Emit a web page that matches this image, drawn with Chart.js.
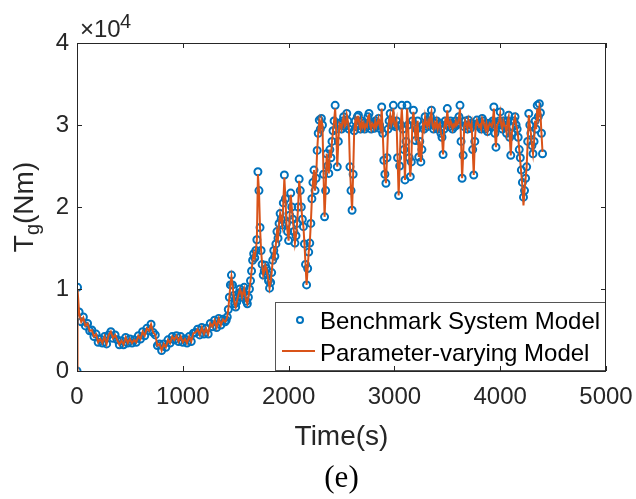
<!DOCTYPE html>
<html>
<head>
<meta charset="utf-8">
<script src="https://cdn.jsdelivr.net/npm/chart.js@4"></script>
<style>
  body { margin: 0; background: #fff; }
  canvas { display: block; }
</style>
</head>
<body>
<canvas id="tgChart" width="636" height="499"></canvas>
<script>
// tempo (s) das amostras: 20 s ate 1400 s, depois 10 s
const timeS = [
  0, 5,
  20, 40, 60, 80, 100,
  120, 140, 160, 180, 200,
  220, 240, 260, 280, 300,
  320, 340, 360, 380, 400,
  420, 440, 460, 480, 500,
  520, 540, 560, 580, 600,
  620, 640, 660, 680, 700,
  720, 740, 760, 780, 800,
  820, 840, 860, 880, 900,
  920, 940, 960, 980, 1000,
  1020, 1040, 1060, 1080, 1100,
  1120, 1140, 1160, 1180, 1200,
  1220, 1240, 1260, 1280, 1300,
  1320, 1340, 1360, 1380, 1400,
  1410, 1420, 1430, 1440, 1450, 1460, 1470, 1480, 1490, 1500,
  1510, 1520, 1530, 1540, 1550, 1560, 1570, 1580, 1590, 1600,
  1610, 1620, 1630, 1640, 1650, 1660, 1670, 1680, 1690, 1700,
  1710, 1720, 1730, 1740, 1750, 1760, 1770, 1780, 1790, 1800,
  1810, 1820, 1830, 1840, 1850, 1860, 1870, 1880, 1890, 1900,
  1910, 1920, 1930, 1940, 1950, 1960, 1970, 1980, 1990, 2000,
  2010, 2020, 2030, 2040, 2050, 2060, 2070, 2080, 2090, 2100,
  2110, 2120, 2130, 2140, 2150, 2160, 2170, 2180, 2190, 2200,
  2210, 2220, 2230, 2240, 2250, 2260, 2270, 2280, 2290, 2300,
  2310, 2320, 2330, 2340, 2350, 2360, 2370, 2380, 2390, 2400,
  2410, 2420, 2430, 2440, 2450, 2460, 2470, 2480, 2490, 2500,
  2510, 2520, 2530, 2540, 2550, 2560, 2570, 2580, 2590, 2600,
  2610, 2620, 2630, 2640, 2650, 2660, 2670, 2680, 2690, 2700,
  2710, 2720, 2730, 2740, 2750, 2760, 2770, 2780, 2790, 2800,
  2810, 2820, 2830, 2840, 2850, 2860, 2870, 2880, 2890, 2900,
  2910, 2920, 2930, 2940, 2950, 2960, 2970, 2980, 2990, 3000,
  3010, 3020, 3030, 3040, 3050, 3060, 3070, 3080, 3090, 3100,
  3110, 3120, 3130, 3140, 3150, 3160, 3170, 3180, 3190, 3200,
  3210, 3220, 3230, 3240, 3250, 3260, 3270, 3280, 3290, 3300,
  3310, 3320, 3330, 3340, 3350, 3360, 3370, 3380, 3390, 3400,
  3410, 3420, 3430, 3440, 3450, 3460, 3470, 3480, 3490, 3500,
  3510, 3520, 3530, 3540, 3550, 3560, 3570, 3580, 3590, 3600,
  3610, 3620, 3630, 3640, 3650, 3660, 3670, 3680, 3690, 3700,
  3710, 3720, 3730, 3740, 3750, 3760, 3770, 3780, 3790, 3800,
  3810, 3820, 3830, 3840, 3850, 3860, 3870, 3880, 3890, 3900,
  3910, 3920, 3930, 3940, 3950, 3960, 3970, 3980, 3990, 4000,
  4010, 4020, 4030, 4040, 4050, 4060, 4070, 4080, 4090, 4100,
  4110, 4120, 4130, 4140, 4150, 4160, 4170, 4180, 4190, 4200,
  4210, 4220, 4230, 4240, 4250, 4260, 4270, 4280, 4290, 4300,
  4310, 4320, 4330, 4340, 4350, 4360, 4370, 4380, 4390, 4400
];

// Tg do modelo de referencia (x10^4 Nm)
const benchmarkTg = [
  0, 1.02,
  0.72, 0.60, 0.66, 0.55, 0.58,
  0.49, 0.50, 0.42, 0.45, 0.35,
  0.39, 0.34, 0.42, 0.33, 0.44,
  0.48, 0.40, 0.44, 0.38, 0.32,
  0.37, 0.32, 0.41, 0.34, 0.39,
  0.34, 0.38, 0.35, 0.43, 0.39,
  0.48, 0.43, 0.52, 0.49, 0.57,
  0.47, 0.44, 0.31, 0.33, 0.25,
  0.33, 0.29, 0.38, 0.34, 0.42,
  0.38, 0.43, 0.36, 0.42, 0.35,
  0.39, 0.34, 0.42, 0.36, 0.46,
  0.47, 0.51, 0.44, 0.53, 0.45,
  0.52, 0.45, 0.58, 0.54, 0.62,
  0.53, 0.64, 0.56, 0.63, 0.60,
  0.62, 0.66, 0.75, 0.90, 1.05, 1.17, 1.05, 0.92, 0.82, 0.78,
  0.84, 0.90, 0.95, 1.00, 0.96, 0.90, 0.95, 1.02, 0.92, 0.85,
  0.82, 0.90, 1.00, 1.10, 1.22, 1.35, 1.43, 1.38, 1.47, 1.60,
  2.43, 2.20, 1.75, 1.47, 1.30, 1.17, 1.22, 1.29, 1.25, 1.18,
  1.10, 1.01, 1.08, 1.20, 1.35, 1.47, 1.40, 1.55, 1.70, 1.62,
  1.80, 1.92, 1.85, 1.78, 2.05, 2.39, 2.10, 1.80, 1.70, 1.59,
  1.90, 2.17, 2.00, 1.85, 1.70, 1.56, 1.65, 1.80, 2.00, 2.34,
  2.20, 2.00, 1.85, 1.76, 1.55, 1.30, 1.05, 1.25, 1.45, 1.56,
  1.80, 2.10, 2.30, 2.45, 2.20, 2.35, 2.69, 2.90, 3.06, 2.95,
  3.08, 3.00, 2.40, 1.88, 2.20, 2.65, 2.50, 2.41, 2.70, 2.60,
  2.80, 2.93, 3.05, 3.24, 2.95, 2.49, 2.80, 3.02, 3.00, 2.95,
  3.05, 3.10, 2.98, 3.00, 3.14, 3.05, 2.95, 2.49, 2.20, 1.96,
  2.40, 2.93, 3.05, 2.98, 3.10, 3.12, 3.00, 2.95, 3.05, 2.98,
  3.02, 2.95, 3.00, 2.98, 3.10, 3.14, 3.00, 2.95, 3.02, 3.00,
  2.96, 3.05, 2.98, 3.02, 3.08, 3.00, 2.95, 3.22, 2.90, 2.57,
  2.40, 2.29, 2.60, 2.95, 3.05, 3.14, 3.00, 3.05, 3.24, 3.00,
  2.98, 3.05, 2.60, 2.14, 2.50, 3.00, 3.24, 2.95, 2.70, 2.33,
  2.80, 3.24, 3.00, 2.60, 2.37, 2.55, 3.05, 3.18, 3.00, 2.81,
  2.95, 3.05, 2.61, 2.80, 2.55, 2.70, 3.00, 2.95, 3.10, 3.02,
  2.98, 3.05, 3.00, 3.10, 3.18, 3.00, 2.95, 3.02, 2.98, 3.05,
  2.95, 3.00, 3.02, 2.90, 2.85, 2.64, 2.95, 3.05, 3.00, 3.20,
  3.02, 2.98, 3.05, 3.02, 2.95, 3.00, 2.98, 3.05, 3.00, 3.02,
  3.10, 3.24, 2.80, 2.35, 2.63, 2.98, 3.05, 3.00, 2.95, 3.06,
  3.00, 2.96, 3.02, 2.70, 2.39, 2.80, 3.00, 3.06, 3.02, 2.98,
  3.00, 2.95, 3.08, 3.05, 3.00, 2.95, 3.02, 2.92, 2.98, 3.02,
  3.00, 2.98, 3.05, 3.22, 2.90, 2.73, 3.00, 3.02, 3.05, 3.16,
  3.00, 2.95, 3.05, 3.00, 2.98, 2.90, 3.05, 3.12, 2.85, 2.63,
  2.90, 2.98, 3.05, 3.10, 3.00, 2.95, 2.85, 2.70, 2.60, 2.45,
  2.30, 2.12, 2.20, 2.35, 2.49, 2.80, 3.14, 3.00, 2.90, 2.75,
  2.65, 2.80, 3.05, 2.95, 3.24, 3.10, 3.26, 3.15, 2.90, 2.65
];

// Tg do modelo com parametros variaveis (x10^4 Nm)
const modelTg = [
  0, 1.00,
  0.71, 0.60, 0.65, 0.55, 0.58,
  0.49, 0.50, 0.42, 0.45, 0.35,
  0.39, 0.34, 0.42, 0.33, 0.44,
  0.48, 0.40, 0.44, 0.38, 0.32,
  0.37, 0.32, 0.41, 0.34, 0.39,
  0.34, 0.38, 0.35, 0.43, 0.39,
  0.48, 0.43, 0.52, 0.49, 0.57,
  0.47, 0.44, 0.31, 0.33, 0.25,
  0.33, 0.29, 0.38, 0.34, 0.42,
  0.38, 0.43, 0.36, 0.42, 0.35,
  0.39, 0.34, 0.42, 0.36, 0.46,
  0.47, 0.51, 0.44, 0.53, 0.45,
  0.52, 0.45, 0.58, 0.54, 0.62,
  0.53, 0.64, 0.56, 0.63, 0.60,
  0.62, 0.66, 0.75, 0.90, 1.05, 1.15, 1.05, 0.92, 0.82, 0.78,
  0.84, 0.90, 0.95, 1.00, 0.96, 0.90, 0.95, 1.00, 0.92, 0.85,
  0.82, 0.90, 1.00, 1.10, 1.22, 1.35, 1.43, 1.38, 1.47, 1.60,
  2.40, 2.20, 1.75, 1.47, 1.30, 1.17, 1.22, 1.29, 1.25, 1.18,
  1.10, 1.01, 1.08, 1.20, 1.35, 1.47, 1.40, 1.55, 1.70, 1.62,
  1.80, 1.92, 1.85, 1.78, 2.05, 2.36, 2.10, 1.80, 1.70, 1.59,
  1.90, 2.15, 2.00, 1.85, 1.70, 1.56, 1.65, 1.80, 2.00, 2.32,
  2.20, 2.00, 1.85, 1.76, 1.55, 1.30, 1.05, 1.25, 1.45, 1.56,
  1.80, 2.10, 2.30, 2.45, 2.20, 2.35, 2.69, 2.90, 3.04, 2.95,
  3.06, 3.00, 2.40, 1.88, 2.20, 2.65, 2.50, 2.41, 2.70, 2.60,
  2.80, 2.93, 3.05, 3.20, 2.95, 2.49, 2.80, 3.02, 3.00, 2.95,
  3.05, 3.10, 2.98, 3.00, 3.12, 3.05, 2.95, 2.49, 2.20, 1.96,
  2.40, 2.93, 3.05, 2.98, 3.10, 3.10, 3.00, 2.95, 3.05, 2.98,
  3.02, 2.95, 3.00, 2.98, 3.10, 3.12, 3.00, 2.95, 3.02, 3.00,
  2.96, 3.05, 2.98, 3.02, 3.08, 3.00, 2.95, 3.20, 2.90, 2.57,
  2.40, 2.29, 2.60, 2.95, 3.05, 3.12, 3.00, 3.05, 3.20, 3.00,
  2.98, 3.05, 2.60, 2.14, 2.50, 3.00, 3.20, 2.95, 2.70, 2.33,
  2.80, 3.20, 3.00, 2.60, 2.37, 2.55, 3.05, 3.16, 3.00, 2.81,
  2.95, 3.05, 2.61, 2.80, 2.55, 2.70, 3.00, 2.95, 3.10, 3.02,
  2.98, 3.05, 3.00, 3.10, 3.16, 3.00, 2.95, 3.02, 2.98, 3.05,
  2.95, 3.00, 3.02, 2.90, 2.85, 2.64, 2.95, 3.05, 3.00, 3.18,
  3.02, 2.98, 3.05, 3.02, 2.95, 3.00, 2.98, 3.05, 3.00, 3.02,
  3.10, 3.20, 2.80, 2.35, 2.63, 2.98, 3.05, 3.00, 2.95, 3.06,
  3.00, 2.96, 3.02, 2.70, 2.39, 2.80, 3.00, 3.06, 3.02, 2.98,
  3.00, 2.95, 3.08, 3.05, 3.00, 2.95, 3.02, 2.92, 2.98, 3.02,
  3.00, 2.98, 3.05, 3.20, 2.90, 2.73, 3.00, 3.02, 3.05, 3.14,
  3.00, 2.95, 3.05, 3.00, 2.98, 2.90, 3.05, 3.10, 2.85, 2.63,
  2.90, 2.98, 3.05, 3.10, 3.00, 2.95, 2.85, 2.70, 2.55, 2.40,
  2.25, 2.02, 2.20, 2.35, 2.49, 2.80, 3.12, 3.00, 2.90, 2.75,
  2.65, 2.80, 3.05, 2.95, 3.20, 3.10, 3.22, 3.15, 2.90, 2.67
];

const xTicks = [0, 1000, 2000, 3000, 4000, 5000];
const yTicks = [0, 1, 2, 3, 4];
const seriesNames = ['Benchmark System Model', 'Parameter-varying Model'];

const AZUL = '#0072BD';
const LARANJA = '#D95319';
const CINZA = '#262626';
const FONTE = '"Liberation Sans", Arial, Helvetica, sans-serif';

const molduraPlugin = {
  id: 'moldura',
  afterDatasetsDraw(chart) {
    const { ctx, chartArea: a } = chart;
    // legenda
    const lx = 275, ly = 302, lw = a.right - lx, lh = a.bottom - ly;
    ctx.save();
    ctx.fillStyle = '#fff';
    ctx.fillRect(lx, ly, lw, lh);
    ctx.strokeStyle = '#555';
    ctx.lineWidth = 1;
    ctx.strokeRect(lx + 0.5, ly + 0.5, lw - 1, lh - 1);
    ctx.strokeStyle = AZUL;
    ctx.lineWidth = 2;
    ctx.beginPath();
    ctx.arc(300, 320, 3, 0, Math.PI * 2);
    ctx.stroke();
    ctx.strokeStyle = LARANJA;
    ctx.beginPath();
    ctx.moveTo(282, 351);
    ctx.lineTo(315, 351);
    ctx.stroke();
    ctx.fillStyle = '#000';
    ctx.font = '24px ' + FONTE;
    ctx.textBaseline = 'alphabetic';
    ctx.textAlign = 'left';
    ctx.fillText(seriesNames[0], 320, 329);
    ctx.fillText(seriesNames[1], 320, 361);
    ctx.restore();
  },
  afterDraw(chart) {
    const { ctx, chartArea: a, scales } = chart;
    ctx.save();
    ctx.strokeStyle = CINZA;
    ctx.lineWidth = 1;
    ctx.strokeRect(a.left + 0.5, a.top + 0.5, a.right - a.left - 1, a.bottom - a.top);
    ctx.beginPath();
    xTicks.forEach(v => {
      const px = Math.round(scales.x.getPixelForValue(v)) + 0.5;
      ctx.moveTo(px, a.bottom); ctx.lineTo(px, a.bottom - 5);
      ctx.moveTo(px, a.top); ctx.lineTo(px, a.top + 5);
    });
    yTicks.forEach(v => {
      const py = Math.round(scales.y.getPixelForValue(v)) + 0.5;
      ctx.moveTo(a.left, py); ctx.lineTo(a.left + 5, py);
      ctx.moveTo(a.right, py); ctx.lineTo(a.right - 5, py);
    });
    ctx.stroke();

    ctx.fillStyle = CINZA;
    // titulo do eixo x
    ctx.font = '28px ' + FONTE;
    ctx.textAlign = 'center';
    ctx.textBaseline = 'alphabetic';
    ctx.fillText('Time(s)', (a.left + a.right) / 2, 445);

    // multiplicador x10^4
    ctx.textAlign = 'left';
    ctx.font = '24px ' + FONTE;
    ctx.fillText('\u00d710', 80, 37);
    ctx.font = '20px ' + FONTE;
    ctx.fillText('4', 120, 28);

    // titulo do eixo y com subscrito
    ctx.translate(33, (a.top + a.bottom) / 2);
    ctx.rotate(-Math.PI / 2);
    ctx.font = '28px ' + FONTE;
    const wT = ctx.measureText('T').width;
    const wP = ctx.measureText('(Nm)').width;
    ctx.font = '20px ' + FONTE;
    const wG = ctx.measureText('g').width;
    const x0 = -(wT + wG + wP) / 2;
    ctx.font = '28px ' + FONTE;
    ctx.fillText('T', x0, 0);
    ctx.font = '20px ' + FONTE;
    ctx.fillText('g', x0 + wT, 6);
    ctx.font = '28px ' + FONTE;
    ctx.fillText('(Nm)', x0 + wT + wG, 0);
    ctx.restore();

    // rotulo (e)
    ctx.save();
    ctx.fillStyle = '#000';
    ctx.font = '31px "Liberation Serif", "Times New Roman", serif';
    ctx.textAlign = 'center';
    ctx.fillText('(e)', (a.left + a.right) / 2, 487);
    ctx.restore();
  }
};

const ctx = document.getElementById('tgChart').getContext('2d');
new Chart(ctx, {
  type: 'scatter',
  data: {
    datasets: [{
      label: seriesNames[0],
      data: timeS.map((t, i) => ({ x: t, y: benchmarkTg[i] })),
      showLine: false,
      pointStyle: 'circle',
      pointRadius: 3.5,
      pointBorderWidth: 2,
      pointBorderColor: AZUL,
      pointBackgroundColor: 'rgba(0,0,0,0)',
      order: 2
    }, {
      label: seriesNames[1],
      data: timeS.map((t, i) => ({ x: t, y: modelTg[i] })),
      showLine: true,
      borderColor: LARANJA,
      borderWidth: 2,
      pointRadius: 0,
      tension: 0,
      order: 1
    }]
  },
  options: {
    responsive: false,
    animation: false,
    layout: { padding: { left: 0, right: 30, top: 43, bottom: 0 } },
    plugins: { legend: { display: false }, tooltip: { enabled: false } },
    scales: {
      x: {
        type: 'linear',
        min: 0, max: 5000,
        grid: { display: false, drawTicks: false },
        border: { display: false },
        afterBuildTicks: s => { s.ticks = xTicks.map(v => ({ value: v })); },
        afterFit: s => { s.height = 128; s.paddingRight = 0; s.paddingLeft = 0; },
        ticks: {
          color: CINZA,
          font: { family: FONTE, size: 24 },
          padding: 12,
          maxRotation: 0,
          autoSkip: false,
          callback: v => String(v)
        }
      },
      y: {
        type: 'linear',
        min: 0, max: 4,
        grid: { display: false, drawTicks: false },
        border: { display: false },
        afterBuildTicks: s => { s.ticks = yTicks.map(v => ({ value: v })); },
        afterFit: s => { s.width = 77; },
        ticks: {
          color: CINZA,
          font: { family: FONTE, size: 24 },
          padding: 8,
          callback: v => String(v)
        }
      }
    }
  },
  plugins: [molduraPlugin]
});
</script>
</body>
</html>
